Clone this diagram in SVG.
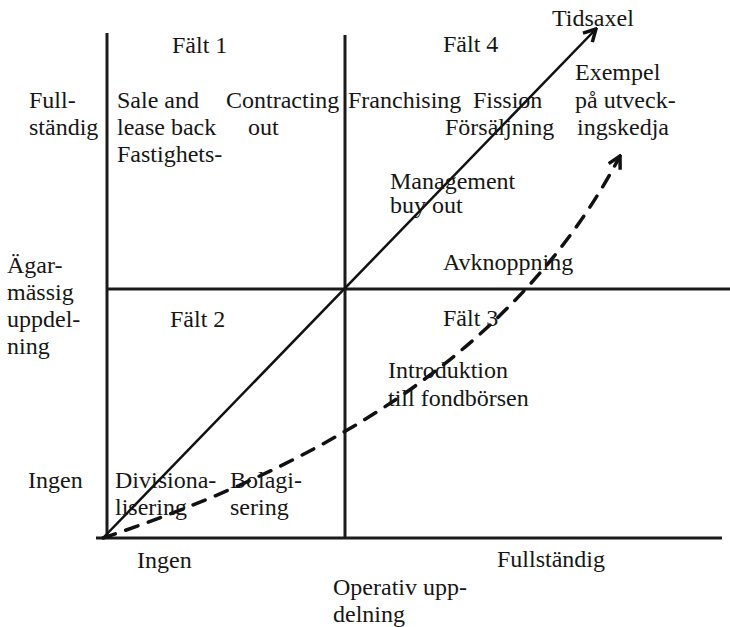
<svg xmlns="http://www.w3.org/2000/svg" width="730" height="627" viewBox="0 0 730 627">
<style>
text { font-family: "Liberation Serif", "Times New Roman", serif; font-size: 24px; fill: #161616; }
.axis { stroke: #1a1a1a; stroke-width: 3; fill: none; }
.solid { stroke: #111; stroke-width: 2.5; fill: none; }
.dash { stroke: #111; stroke-width: 3.5; fill: none; stroke-dasharray: 13 11; stroke-linecap: round; }
</style>
<defs>
<marker id="chev" viewBox="0 0 16 16" refX="14" refY="8" markerWidth="16" markerHeight="16" markerUnits="userSpaceOnUse" orient="auto">
<path d="M2,1.5 L14,8 L2,14.5" fill="none" stroke="#111" stroke-width="3.5" stroke-linejoin="miter"/>
</marker>
</defs>
<rect width="730" height="627" fill="#ffffff"/>
<g id="grid">
<line class="axis" x1="107" y1="33" x2="107" y2="538"/>
<line class="axis" x1="345" y1="35" x2="345" y2="538"/>
<line class="axis" x1="107" y1="289" x2="730" y2="289"/>
<line class="axis" x1="96" y1="538" x2="722" y2="538"/>
</g>
<g id="connectors">
<line class="solid" x1="103" y1="538" x2="596" y2="29" marker-end="url(#chev)"/>
<path class="dash" d="M103,538 C300,472 510,365 620,156" marker-end="url(#chev)"/>
</g>
<g id="falt1"><text x="172" y="53">Fält 1</text></g>
<g id="falt2"><text x="170" y="327">Fält 2</text></g>
<g id="falt3"><text x="443" y="326">Fält 3</text></g>
<g id="falt4"><text x="443" y="52">Fält 4</text></g>
<g id="tidsaxel"><text x="552" y="26">Tidsaxel</text></g>
<g id="y-full"><text x="29" y="108">Full-</text><text x="29" y="135">ständig</text></g>
<g id="y-title"><text x="7" y="273">Ägar-</text><text x="7" y="300">mässig</text><text x="7" y="327">uppdel-</text><text x="7" y="354">ning</text></g>
<g id="y-ingen"><text x="28" y="488">Ingen</text></g>
<g id="sale"><text x="117" y="108">Sale and</text><text x="117" y="135">lease back</text><text x="117" y="162">Fastighets-</text></g>
<g id="contracting"><text x="226" y="108">Contracting</text><text x="248" y="135">out</text></g>
<g id="franchising"><text x="348" y="108">Franchising</text></g>
<g id="fission"><text x="473" y="108">Fission</text></g>
<g id="forsaljning"><text x="445" y="135">Försäljning</text></g>
<g id="exempel"><text x="575" y="80">Exempel</text><text x="575" y="108">på utveck-</text><text x="577" y="135">ingskedja</text></g>
<g id="management"><text x="390" y="189">Management</text><text x="390" y="213">buy out</text></g>
<g id="avknoppning"><text x="443" y="270">Avknoppning</text></g>
<g id="introduktion"><text x="388" y="378">Introduktion</text><text x="388" y="406">till fondbörsen</text></g>
<g id="divisionalisering"><text x="115" y="488">Divisiona-</text><text x="115" y="515">lisering</text></g>
<g id="bolagisering"><text x="230" y="488">Bolagi-</text><text x="230" y="515">sering</text></g>
<g id="x-ingen"><text x="137" y="568">Ingen</text></g>
<g id="x-full"><text x="497" y="567">Fullständig</text></g>
<g id="x-title"><text x="333" y="595">Operativ upp-</text><text x="333" y="622">delning</text></g>
</svg>
